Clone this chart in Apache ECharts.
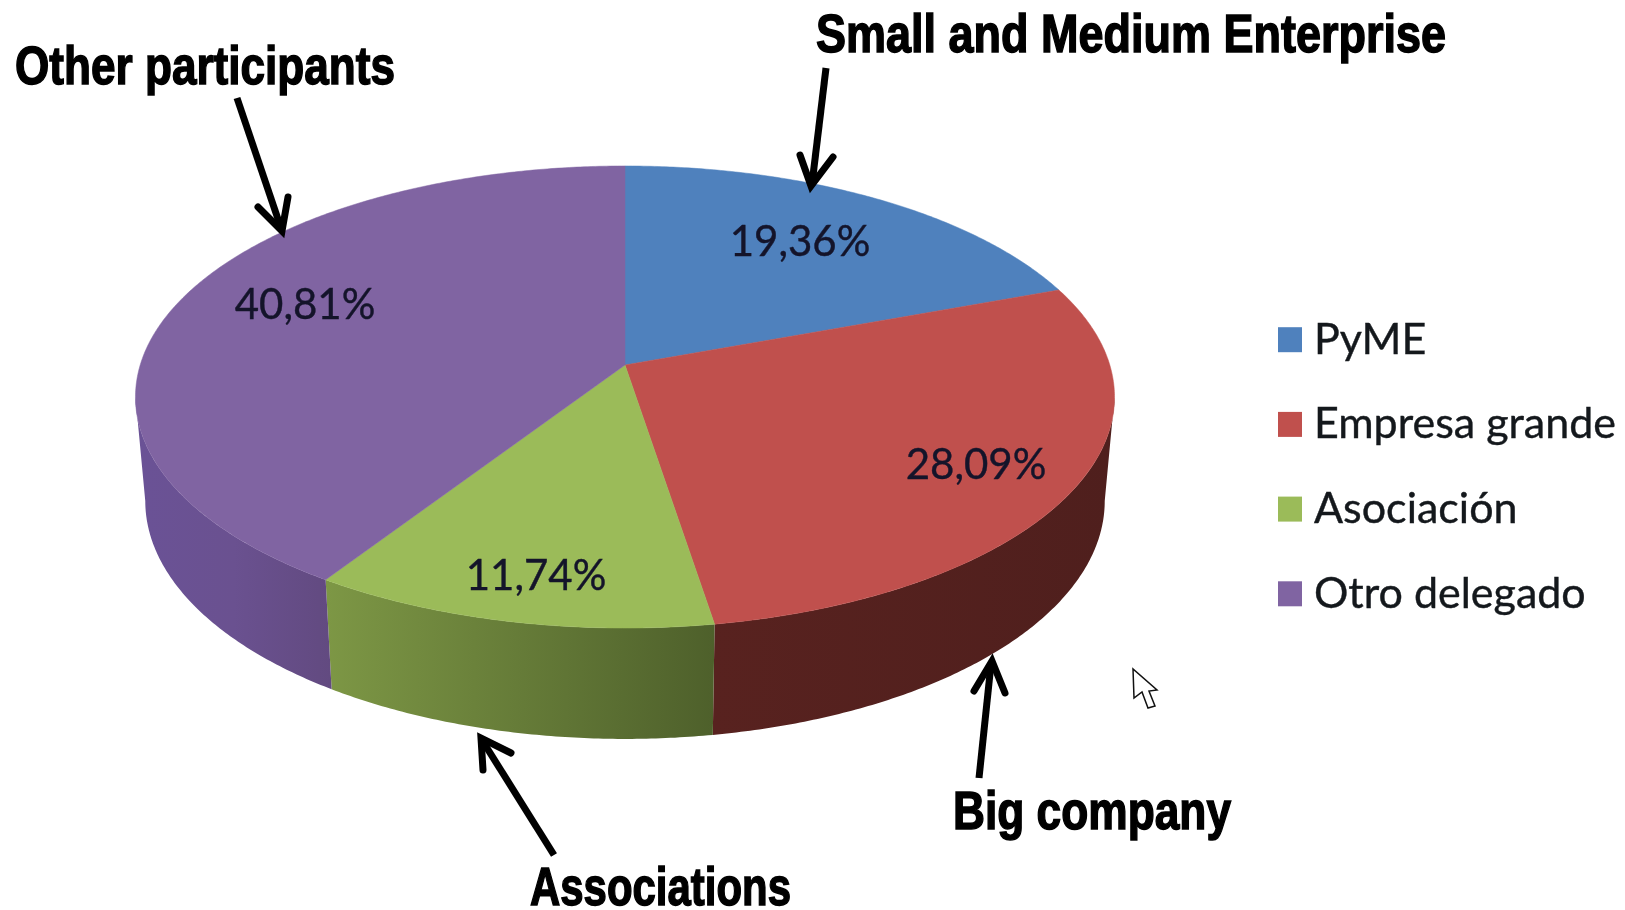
<!DOCTYPE html>
<html>
<head>
<meta charset="utf-8">
<style>html,body{margin:0;padding:0;background:#fff}#chart{width:1625px;height:910px}</style>
<script src="https://cdn.jsdelivr.net/npm/echarts@6/dist/echarts.min.js"></script>
</head>
<body>
<div id="chart"></div>
<script>
// Delegates by type of participant
const categories = ['PyME', 'Empresa grande', 'Asociación', 'Otro delegado'];
const shares = [19.36, 28.09, 11.74, 40.81];
const shareLabels = ['19,36%', '28,09%', '11,74%', '40,81%'];
const topColors = ['#4f81bd', '#c0504d', '#9bbb59', '#8064a2'];
const wallStops = [
  ['#3a5f8c', '#3a5f8c'],
  ['#58221f', '#4f1f1d'],
  ['#7d9745', '#4e602b'],
  ['#6a5296', '#6a5190', '#624a80']
];
const labelAnchors = [[800, 242], [976, 465], [536, 576], [305, 305]];
const captionFont = 'bold 54px "Liberation Sans", sans-serif';
const notes = [
  {text: 'Other participants', x: 15, y: 69, w: 380, line: [[237, 98], [281, 228]], head: [[258, 207], [282, 231], [288, 197]]},
  {text: 'Small and Medium Enterprise', x: 816, y: 37, w: 630, line: [[826, 68], [812, 184]], head: [[800, 155], [811, 186], [833, 157]]},
  {text: 'Big company', x: 953, y: 814, w: 278, line: [[979, 778], [991, 664]], head: [[974, 691], [992, 661], [1005, 693]]},
  {text: 'Associations', x: 530, y: 890, w: 261, line: [[554, 855], [482, 740]], head: [[483, 770], [481, 738], [511, 753]]}
];
const pointer = [[1133, 669], [1134, 698], [1142, 692], [1148, 708], [1155, 706], [1149, 691], [1157, 690]];

// Perspective disc: top face, and a lower rim slightly shrunk in x
const disc = {cx: 625, cy: 365, A: 484.8, B: 226.6, k: 0.1385, lowerCy: 468, lowerSx: 0.98, lowerSy: 1.03};
const silhouetteDeg = Math.acos(-disc.k) * 180 / Math.PI;

function rimPoint(deg, lower) {
  const t = deg * Math.PI / 180;
  const u = Math.sin(t), v = Math.cos(t), w = 1 + disc.k * v;
  if (lower) {
    return [disc.cx + disc.lowerSx * disc.A * u / w, disc.lowerCy - disc.lowerSy * disc.B * v / w];
  }
  return [disc.cx + disc.A * u / w, disc.cy - disc.B * v / w];
}

function arc(from, to, lower) {
  const pts = [];
  const steps = Math.max(2, Math.ceil(Math.abs(to - from) * 2));
  for (let i = 0; i <= steps; i++) {
    pts.push(rimPoint(from + (to - from) * i / steps, lower));
  }
  return pts;
}

function wallFill(idx) {
  const stops = wallStops[idx];
  return new echarts.graphic.LinearGradient(0, 0, 1, 0, stops.map((c, i) => ({offset: i / (stops.length - 1), color: c})));
}

function sliceRenderer(idx) {
  return function (params, api) {
    const start = api.value(0), value = api.value(1);
    const a0 = start * 3.6, a1 = (start + value) * 3.6;
    const children = [];
    const w0 = Math.max(a0, silhouetteDeg), w1 = Math.min(a1, 360 - silhouetteDeg);
    if (w1 > w0) {
      children.push({
        type: 'polygon', z2: 1, silent: true,
        shape: {points: arc(w0, w1, false).concat(arc(w1, w0, true))},
        style: {fill: wallFill(idx), stroke: null}
      });
    }
    children.push({
      type: 'polygon', z2: 10, silent: true,
      shape: {points: [[disc.cx, disc.cy]].concat(arc(a0, a1, false))},
      style: {fill: topColors[idx], stroke: topColors[idx], lineWidth: 0.5}
    });
    children.push({
      type: 'text', z2: 20, silent: true,
      style: {
        text: shareLabels[idx], x: labelAnchors[idx][0], y: labelAnchors[idx][1],
        textAlign: 'center', textVerticalAlign: 'middle',
        font: '42px Lato, "Noto Sans", sans-serif', fill: '#14142a',
        stroke: '#14142a', lineWidth: 0.4
      }
    });
    return {type: 'group', children};
  };
}

let running = 0;
const series = categories.map((name, idx) => {
  const row = [running, shares[idx]];
  running += shares[idx];
  return {
    type: 'custom', name, coordinateSystem: 'none', silent: true,
    itemStyle: {color: topColors[idx]},
    renderItem: sliceRenderer(idx),
    data: [row]
  };
});

// Captions are squeezed horizontally to a condensed look
const ruler = document.createElement('canvas').getContext('2d');
ruler.font = captionFont;

// Callout arrows, their captions and the stray mouse pointer
const overlay = [];
notes.forEach(n => {
  overlay.push({
    type: 'polyline', silent: true, z: 30,
    shape: {points: n.line},
    style: {stroke: '#000', lineWidth: 7, fill: null}
  });
  overlay.push({
    type: 'polyline', silent: true, z: 30,
    shape: {points: n.head},
    style: {stroke: '#000', lineWidth: 7, fill: null, lineJoin: 'miter', lineCap: 'round'}
  });
  overlay.push({
    type: 'text', silent: true, z: 30, x: n.x, y: n.y,
    scaleX: n.w / ruler.measureText(n.text).width, scaleY: 1,
    style: {
      text: n.text, x: 0, y: 0, textAlign: 'left', textVerticalAlign: 'middle',
      font: captionFont, fill: '#000', stroke: '#000', lineWidth: 1.5
    }
  });
});
overlay.push({
  type: 'polygon', silent: true, z: 30,
  shape: {points: pointer},
  style: {fill: '#fff', stroke: '#111', lineWidth: 1.5}
});

const chart = echarts.init(document.getElementById('chart'), null, {renderer: 'canvas'});
chart.setOption({
  animation: false,
  backgroundColor: '#fff',
  tooltip: {show: false},
  legend: {
    orient: 'vertical', left: 1278, top: 318, padding: 0,
    itemWidth: 24, itemHeight: 25, itemGap: 41.3,
    icon: 'rect', selectedMode: false,
    data: categories,
    textStyle: {
      fontFamily: 'Lato, "Noto Sans", sans-serif', fontSize: 43,
      color: '#14181c', padding: [0, 0, 0, 7], height: 25, lineHeight: 25,
      textBorderColor: '#14181c', textBorderWidth: 0.4
    }
  },
  graphic: {elements: overlay},
  series
});
</script>
</body>
</html>
